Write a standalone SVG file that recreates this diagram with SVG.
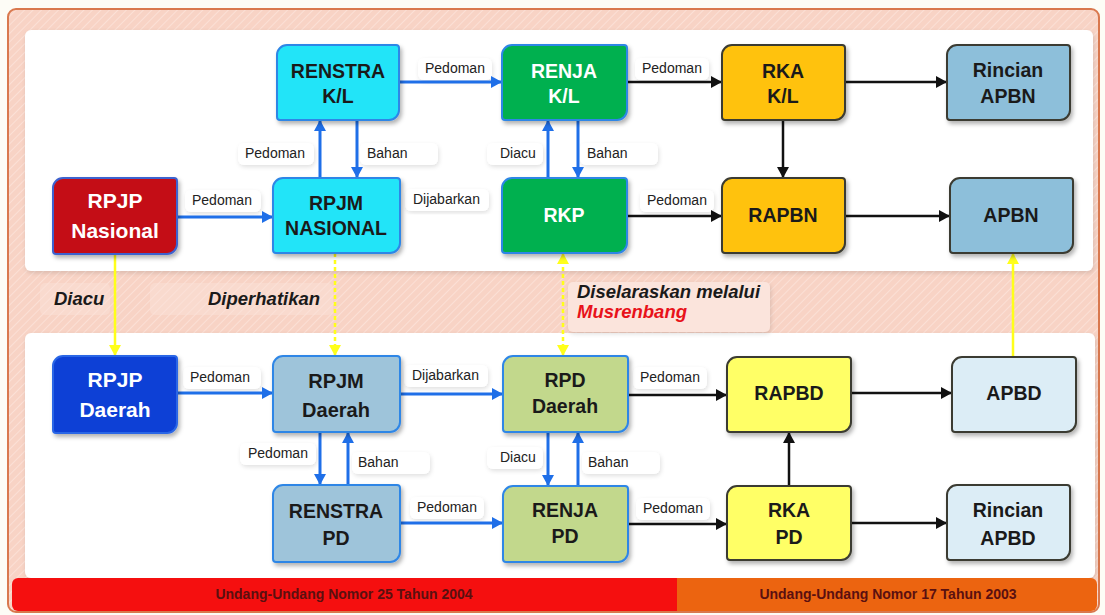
<svg xmlns="http://www.w3.org/2000/svg" width="1105" height="615" viewBox="0 0 1105 615">
<defs>
<pattern id="hatch" width="6" height="6" patternUnits="userSpaceOnUse" patternTransform="rotate(45)">
<rect width="6" height="6" fill="#f8d3c5"/>
<line x1="0" y1="0" x2="0" y2="6" stroke="#fbe0d6" stroke-width="2"/>
</pattern>
<filter id="sh" x="-10%" y="-10%" width="130%" height="130%">
<feDropShadow dx="2" dy="3" stdDeviation="2" flood-color="#000" flood-opacity="0.3"/>
</filter>
<filter id="lsh" x="-10%" y="-20%" width="130%" height="150%">
<feDropShadow dx="1" dy="2" stdDeviation="2" flood-color="#000" flood-opacity="0.12"/>
</filter>
<marker id="ab" markerUnits="userSpaceOnUse" markerWidth="12" markerHeight="12" refX="11" refY="6" orient="auto"><path d="M0,0 L11,6 L0,12 z" fill="#1f6fe8"/></marker>
<marker id="ak" markerUnits="userSpaceOnUse" markerWidth="12" markerHeight="12" refX="11" refY="6" orient="auto"><path d="M0,0 L11,6 L0,12 z" fill="#111"/></marker>
<marker id="ay" markerUnits="userSpaceOnUse" markerWidth="12" markerHeight="12" refX="11" refY="6" orient="auto-start-reverse"><path d="M0,0 L11,6 L0,12 z" fill="#ffff1a"/></marker>
</defs>
<style>
.n{stroke-width:2;filter:url(#sh)}
.bb{stroke:#2e86e6}
.bk{stroke:#3a3a30}
.t{font-family:"Liberation Sans",Arial,sans-serif;font-weight:bold;font-size:19.5px;text-anchor:middle;fill:#1a1a1a}
.w{fill:#fff}
.lb{fill:#fff;filter:url(#lsh)}
.lt{font-family:"Liberation Sans",Arial,sans-serif;font-size:14px;fill:#222}
.cb{stroke:#1f6fe8;stroke-width:3;fill:none;marker-end:url(#ab)}
.ck{stroke:#111;stroke-width:2.5;fill:none;marker-end:url(#ak)}
.cy{stroke:#ffff1a;stroke-width:2.5;fill:none;marker-end:url(#ay)}
.dash{stroke-dasharray:4 3}
.it{font-family:"Liberation Sans",Arial,sans-serif;font-weight:bold;font-style:italic;font-size:18.5px;fill:#1a1a1a}
.bt{font-family:"Liberation Sans",Arial,sans-serif;font-weight:bold;font-size:14px;text-anchor:middle;fill:#5a1010}
</style>
<rect width="1105" height="615" fill="#fdfcf6"/>
<g id="frame">
<rect x="8" y="9" width="1091" height="603" rx="8" fill="url(#hatch)" stroke="#d9784e" stroke-width="2"/>
<rect x="25" y="30" width="1068" height="241" rx="6" fill="#fff" filter="url(#lsh)"/>
<rect x="25" y="333" width="1070" height="245" rx="6" fill="#fff" filter="url(#lsh)"/>
<path d="M18,578 H677 V611 H18 A6,6 0 0 1 12,605 V584 A6,6 0 0 1 18,578 Z" fill="#f50f0f"/>
<path d="M677,578 H1091 A6,6 0 0 1 1097,584 V605 A6,6 0 0 1 1091,611 H677 Z" fill="#ec6410"/>
<text class="bt" x="344" y="599">Undang-Undang Nomor 25 Tahun 2004</text>
<text class="bt" x="888" y="599">Undang-Undang Nomor 17 Tahun 2003</text>
</g>
<g id="midlabels">
<rect x="40" y="283" width="70" height="32" rx="5" fill="#fbe3da" opacity="0.45"/>
<rect x="150" y="283" width="183" height="32" rx="5" fill="#fbe3da" opacity="0.45"/>
<rect x="568" y="282" width="202" height="50" rx="5" fill="#fbe4dc" filter="url(#lsh)"/>
<text class="it" x="54" y="305">Diacu</text>
<text class="it" x="208" y="305">Diperhatikan</text>
<text class="it" x="577" y="298">Diselaraskan melalui</text>
<text class="it" x="577" y="318" style="fill:#e8121a">Musrenbang</text>
</g>
<g id="labels">
<rect class="lb" x="418" y="58" width="74" height="22" rx="6"/><text class="lt" x="425" y="73">Pedoman</text>
<rect class="lb" x="635" y="58" width="74" height="22" rx="6"/><text class="lt" x="642" y="73">Pedoman</text>
<rect class="lb" x="185" y="190" width="76" height="22" rx="6"/><text class="lt" x="192" y="205">Pedoman</text>
<rect class="lb" x="238" y="143" width="76" height="22" rx="6"/><text class="lt" x="245" y="158">Pedoman</text>
<rect class="lb" x="360" y="143" width="78" height="22" rx="6"/><text class="lt" x="367" y="158">Bahan</text>
<rect class="lb" x="405" y="189" width="84" height="22" rx="6"/><text class="lt" x="413" y="204">Dijabarkan</text>
<rect class="lb" x="487" y="143" width="56" height="22" rx="6"/><text class="lt" x="500" y="158">Diacu</text>
<rect class="lb" x="580" y="143" width="78" height="22" rx="6"/><text class="lt" x="587" y="158">Bahan</text>
<rect class="lb" x="640" y="190" width="74" height="22" rx="6"/><text class="lt" x="647" y="205">Pedoman</text>
<rect class="lb" x="183" y="367" width="78" height="22" rx="6"/><text class="lt" x="190" y="382">Pedoman</text>
<rect class="lb" x="240" y="443" width="76" height="22" rx="6"/><text class="lt" x="248" y="458">Pedoman</text>
<rect class="lb" x="352" y="452" width="78" height="22" rx="6"/><text class="lt" x="358" y="467">Bahan</text>
<rect class="lb" x="404" y="365" width="84" height="22" rx="6"/><text class="lt" x="412" y="380">Dijabarkan</text>
<rect class="lb" x="487" y="447" width="56" height="22" rx="6"/><text class="lt" x="500" y="462">Diacu</text>
<rect class="lb" x="582" y="452" width="78" height="22" rx="6"/><text class="lt" x="588" y="467">Bahan</text>
<rect class="lb" x="410" y="497" width="74" height="22" rx="6"/><text class="lt" x="417" y="512">Pedoman</text>
<rect class="lb" x="633" y="367" width="74" height="22" rx="6"/><text class="lt" x="640" y="382">Pedoman</text>
<rect class="lb" x="636" y="498" width="74" height="22" rx="6"/><text class="lt" x="643" y="513">Pedoman</text>
</g>
<g id="connectors">
<path class="cb" d="M399,82 H502"/>
<path class="cb" d="M177,217 H273"/>
<path class="cb" d="M320,178 V120"/>
<path class="cb" d="M357,120 V178"/>
<path d="M400,216 H502" stroke="#fff" stroke-width="3"/>
<path class="cb" d="M548,178 V120"/>
<path class="cb" d="M578,120 V178"/>
<path class="ck" d="M627,82 H722"/>
<path class="ck" d="M845,82 H947"/>
<path class="ck" d="M783,120 V178"/>
<path class="ck" d="M627,216 H722"/>
<path class="ck" d="M845,216 H950"/>
<path class="cb" d="M177,393 H273"/>
<path class="cb" d="M400,394 H503"/>
<path class="cb" d="M320,432 V485"/>
<path class="cb" d="M348,485 V432"/>
<path class="cb" d="M548,432 V486"/>
<path class="cb" d="M578,486 V432"/>
<path class="cb" d="M400,523 H503"/>
<path class="ck" d="M628,395 H727"/>
<path class="ck" d="M851,393 H952"/>
<path class="ck" d="M628,524 H727"/>
<path class="ck" d="M789,486 V432"/>
<path class="ck" d="M851,523 H947"/>
<path class="cy" d="M115,254 V356"/>
<path class="cy dash" d="M335,253 V356"/>
<path class="cy dash" d="M563,253 V356" style="marker-start:url(#ay)"/>
<path class="cy" d="M1013,357 V253"/>
</g>
<g id="rpjp-nasional"><path class="n" fill="#c40a12" stroke="#3d62cf" d="M63,178 H174 A3,3 0 0 1 177,181 V244 A10,10 0 0 1 167,254 H56 A3,3 0 0 1 53,251 V188 A10,10 0 0 1 63,178 Z"/><text class="t w" style="font-size:21px" x="115" y="208">RPJP</text><text class="t w" style="font-size:21px" x="115" y="238">Nasional</text></g>
<g id="renstra-kl"><path class="n bb" fill="#22e4f8" d="M287,45 H396 A3,3 0 0 1 399,48 V110 A10,10 0 0 1 389,120 H280 A3,3 0 0 1 277,117 V55 A10,10 0 0 1 287,45 Z"/><text class="t" x="338" y="78">RENSTRA</text><text class="t" x="338" y="103">K/L</text></g>
<g id="rpjm-nasional"><path class="n bb" fill="#22e4f8" d="M283,178 H397 A3,3 0 0 1 400,181 V243 A10,10 0 0 1 390,253 H276 A3,3 0 0 1 273,250 V188 A10,10 0 0 1 283,178 Z"/><text class="t" x="336" y="210">RPJM</text><text class="t" x="336" y="235">NASIONAL</text></g>
<g id="renja-kl"><path class="n bb" fill="#00b050" d="M512,45 H624 A3,3 0 0 1 627,48 V110 A10,10 0 0 1 617,120 H505 A3,3 0 0 1 502,117 V55 A10,10 0 0 1 512,45 Z"/><text class="t w" x="564" y="78">RENJA</text><text class="t w" x="564" y="103">K/L</text></g>
<g id="rkp"><path class="n bb" fill="#00b050" d="M512,178 H624 A3,3 0 0 1 627,181 V243 A10,10 0 0 1 617,253 H505 A3,3 0 0 1 502,250 V188 A10,10 0 0 1 512,178 Z"/><text class="t w" x="564" y="222">RKP</text></g>
<g id="rka-kl"><path class="n bk" fill="#ffc20e" d="M732,45 H842 A3,3 0 0 1 845,48 V110 A10,10 0 0 1 835,120 H725 A3,3 0 0 1 722,117 V55 A10,10 0 0 1 732,45 Z"/><text class="t" x="783" y="78">RKA</text><text class="t" x="783" y="103">K/L</text></g>
<g id="rapbn"><path class="n bk" fill="#ffc20e" d="M732,178 H842 A3,3 0 0 1 845,181 V243 A10,10 0 0 1 835,253 H725 A3,3 0 0 1 722,250 V188 A10,10 0 0 1 732,178 Z"/><text class="t" x="783" y="222">RAPBN</text></g>
<g id="rincian-apbn"><path class="n bk" fill="#8dbfda" d="M957,45 H1067 A3,3 0 0 1 1070,48 V110 A10,10 0 0 1 1060,120 H950 A3,3 0 0 1 947,117 V55 A10,10 0 0 1 957,45 Z"/><text class="t" x="1008" y="77">Rincian</text><text class="t" x="1008" y="103">APBN</text></g>
<g id="apbn"><path class="n bk" fill="#8dbfda" d="M960,178 H1070 A3,3 0 0 1 1073,181 V243 A10,10 0 0 1 1063,253 H953 A3,3 0 0 1 950,250 V188 A10,10 0 0 1 960,178 Z"/><text class="t" x="1011" y="222">APBN</text></g>
<g id="rpjp-daerah"><path class="n" fill="#0b3fd6" stroke="#2a66e6" d="M63,356 H174 A3,3 0 0 1 177,359 V423 A10,10 0 0 1 167,433 H56 A3,3 0 0 1 53,430 V366 A10,10 0 0 1 63,356 Z"/><text class="t w" style="font-size:21px" x="115" y="387">RPJP</text><text class="t w" style="font-size:21px" x="115" y="417">Daerah</text></g>
<g id="rpjm-daerah"><path class="n bb" fill="#9ec4da" d="M283,356 H397 A3,3 0 0 1 400,359 V422 A10,10 0 0 1 390,432 H276 A3,3 0 0 1 273,429 V366 A10,10 0 0 1 283,356 Z"/><text class="t" style="font-size:20px" x="336" y="388">RPJM</text><text class="t" style="font-size:20px" x="336" y="417">Daerah</text></g>
<g id="renstra-pd"><path class="n bb" fill="#9ec4da" d="M283,485 H397 A3,3 0 0 1 400,488 V552 A10,10 0 0 1 390,562 H276 A3,3 0 0 1 273,559 V495 A10,10 0 0 1 283,485 Z"/><text class="t" x="336" y="518">RENSTRA</text><text class="t" x="336" y="545">PD</text></g>
<g id="rpd-daerah"><path class="n bb" fill="#c2d88c" d="M513,356 H625 A3,3 0 0 1 628,359 V422 A10,10 0 0 1 618,432 H506 A3,3 0 0 1 503,429 V366 A10,10 0 0 1 513,356 Z"/><text class="t" x="565" y="387">RPD</text><text class="t" x="565" y="413">Daerah</text></g>
<g id="renja-pd"><path class="n bb" fill="#c2d88c" d="M513,486 H625 A3,3 0 0 1 628,489 V552 A10,10 0 0 1 618,562 H506 A3,3 0 0 1 503,559 V496 A10,10 0 0 1 513,486 Z"/><text class="t" x="565" y="517">RENJA</text><text class="t" x="565" y="543">PD</text></g>
<g id="rapbd"><path class="n bk" fill="#ffff66" d="M737,357 H848 A3,3 0 0 1 851,360 V422 A10,10 0 0 1 841,432 H730 A3,3 0 0 1 727,429 V367 A10,10 0 0 1 737,357 Z"/><text class="t" x="789" y="400">RAPBD</text></g>
<g id="rka-pd"><path class="n bk" fill="#ffff66" d="M737,486 H848 A3,3 0 0 1 851,489 V550 A10,10 0 0 1 841,560 H730 A3,3 0 0 1 727,557 V496 A10,10 0 0 1 737,486 Z"/><text class="t" x="789" y="517">RKA</text><text class="t" x="789" y="544">PD</text></g>
<g id="apbd"><path class="n bk" fill="#dcedf6" d="M962,357 H1073 A3,3 0 0 1 1076,360 V422 A10,10 0 0 1 1066,432 H955 A3,3 0 0 1 952,429 V367 A10,10 0 0 1 962,357 Z"/><text class="t" x="1014" y="400">APBD</text></g>
<g id="rincian-apbd"><path class="n bk" fill="#dcedf6" d="M957,485 H1067 A3,3 0 0 1 1070,488 V550 A10,10 0 0 1 1060,560 H950 A3,3 0 0 1 947,557 V495 A10,10 0 0 1 957,485 Z"/><text class="t" x="1008" y="517">Rincian</text><text class="t" x="1008" y="545">APBD</text></g>
</svg>
